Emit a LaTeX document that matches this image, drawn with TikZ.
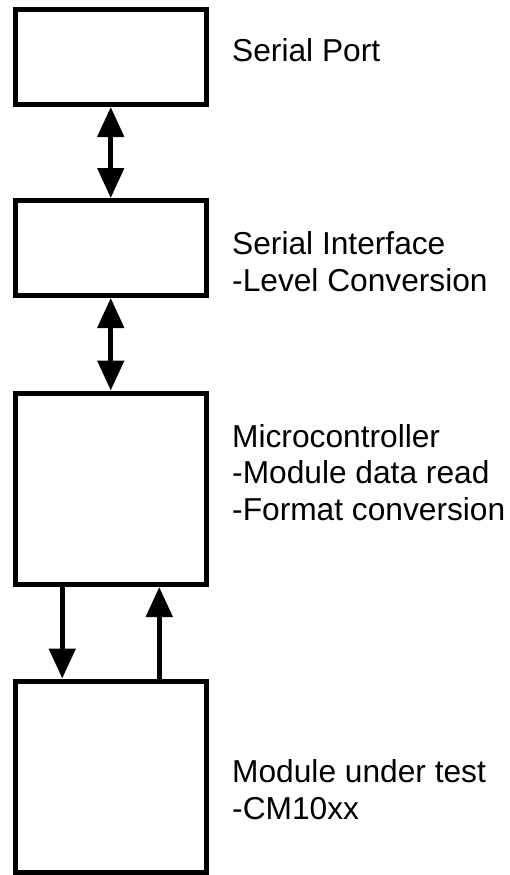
\documentclass[tikz,border=0pt]{standalone}
\usepackage{fontspec}
\setmainfont{Liberation Sans}
\usetikzlibrary{arrows.meta}
\begin{document}
\begin{tikzpicture}[x=1pt,y=-1pt,
  blk/.style={draw,line width=5pt,minimum width=191.5pt,inner sep=0pt,outer sep=2.5pt},
  lbl/.style={anchor=base west,align=left,font=\fontsize{31.7}{36.5}\selectfont,inner sep=0pt},
  conn/.style={line width=5pt,{Triangle[length=30pt,width=26pt]}-{Triangle[length=30pt,width=26pt]}},
  uni/.style={line width=5pt,-{Triangle[length=30pt,width=26pt]}}]
\useasboundingbox (0,0) rectangle (509,875);
\node[blk,minimum height=95pt] (sp) at (110.75,57) {};
\node[blk,minimum height=95pt] (si) at (110.75,248) {};
\node[blk,minimum height=191.5pt] (mc) at (110.75,488.75) {};
\node[blk,minimum height=191pt] (mut) at (110.75,776.5) {};
\draw[conn] (sp.south) -- (si.north);
\draw[conn] (si.south) -- (mc.north);
\draw[uni] ([xshift=-48.5pt]mc.south) -- ([xshift=-48.5pt]mut.north);
\draw[uni] ([xshift=48.5pt]mut.north) -- ([xshift=48.5pt]mc.south);
\node[lbl] (tsp) at (232,62) {Serial Port};
\node[lbl] (tsi) at (232,291) {Serial Interface\\-Level Conversion};
\node[lbl] (tmc) at (232,520) {Microcontroller\\-Module data read\\-Format conversion};
\node[lbl] (tmut) at (232,819) {Module under test\\-CM10xx};
\end{tikzpicture}
\end{document}
